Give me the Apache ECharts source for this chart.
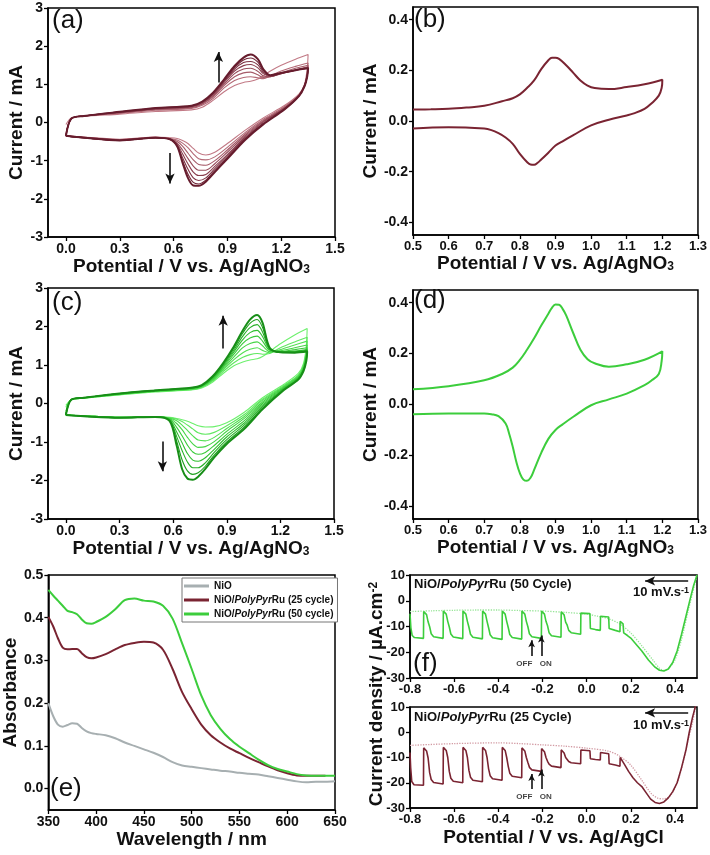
<!DOCTYPE html>
<html><head><meta charset="utf-8">
<script src="https://cdn.jsdelivr.net/npm/echarts@6/dist/echarts.min.js"></script>
<style>html,body{margin:0;padding:0;background:#fff}#c{width:710px;height:855px}</style>
</head><body><div id="c"></div>
<script>
const FF = "'Liberation Sans', Arial, Helvetica, sans-serif";

// ---------------- DATA ----------------
// (a)/(c) cyclic voltammograms: forward (anodic) and reverse (cathodic) potential grids
const cvFwdV = [0,0.03,0.1,0.3,0.5,0.7,0.76,0.82,0.88,0.94,0.99,1.03,1.07,1.1,1.14,1.2,1.28,1.35];
const cvRevV = [1.345,1.33,1.3,1.22,1.1,1.0,0.9,0.83,0.78,0.74,0.71,0.68,0.65,0.62,0.58,0.5,0.3,0.1,0];

// (a) NiO/PolyPyrRu electropolymerisation, selected cycles (first -> last)
const aFwd = [
  [-0.05,0.12,0.16,0.22,0.29,0.33,0.40,0.58,0.80,0.97,1.05,1.08,1.14,1.22,1.35,1.50,1.66,1.78],
  [-0.30,0.11,0.17,0.24,0.32,0.37,0.45,0.63,0.90,1.10,1.18,1.20,1.17,1.15,1.22,1.35,1.47,1.56],
  [-0.33,0.10,0.17,0.25,0.34,0.39,0.48,0.67,0.96,1.20,1.30,1.32,1.25,1.18,1.20,1.30,1.42,1.50],
  [-0.34,0.10,0.17,0.26,0.35,0.41,0.50,0.70,1.00,1.28,1.40,1.42,1.34,1.22,1.20,1.28,1.38,1.46],
  [-0.35,0.10,0.17,0.27,0.36,0.42,0.52,0.73,1.04,1.35,1.49,1.52,1.43,1.28,1.21,1.28,1.37,1.44],
  [-0.35,0.10,0.17,0.27,0.37,0.43,0.53,0.75,1.07,1.40,1.57,1.60,1.51,1.32,1.22,1.29,1.37,1.43],
  [-0.35,0.10,0.17,0.28,0.38,0.44,0.54,0.77,1.10,1.44,1.64,1.69,1.58,1.36,1.23,1.29,1.37,1.42],
  [-0.35,0.10,0.17,0.28,0.38,0.44,0.55,0.78,1.12,1.48,1.70,1.78,1.66,1.40,1.24,1.30,1.37,1.42]
];
const aRev = [
  [1.40,1.00,0.75,0.45,0.12,-0.20,-0.55,-0.78,-0.85,-0.80,-0.68,-0.55,-0.47,-0.42,-0.40,-0.38,-0.44,-0.38,-0.35],
  [1.28,0.98,0.73,0.42,0.08,-0.26,-0.65,-0.90,-0.98,-0.95,-0.82,-0.66,-0.54,-0.46,-0.42,-0.39,-0.45,-0.39,-0.35],
  [1.25,0.97,0.72,0.40,0.05,-0.30,-0.72,-1.00,-1.12,-1.10,-0.98,-0.80,-0.62,-0.50,-0.43,-0.39,-0.45,-0.39,-0.35],
  [1.23,0.96,0.71,0.38,0.03,-0.34,-0.78,-1.08,-1.25,-1.25,-1.14,-0.94,-0.72,-0.54,-0.43,-0.40,-0.46,-0.40,-0.35],
  [1.22,0.96,0.71,0.37,0.01,-0.38,-0.84,-1.15,-1.36,-1.39,-1.30,-1.08,-0.82,-0.57,-0.44,-0.40,-0.46,-0.40,-0.35],
  [1.21,0.95,0.70,0.36,-0.02,-0.41,-0.88,-1.21,-1.45,-1.52,-1.45,-1.22,-0.92,-0.60,-0.44,-0.40,-0.47,-0.40,-0.35],
  [1.20,0.95,0.70,0.35,-0.04,-0.43,-0.92,-1.26,-1.51,-1.61,-1.57,-1.35,-1.00,-0.62,-0.44,-0.40,-0.47,-0.40,-0.35],
  [1.20,0.95,0.70,0.35,-0.05,-0.45,-0.95,-1.30,-1.55,-1.66,-1.65,-1.45,-1.05,-0.62,-0.44,-0.40,-0.47,-0.40,-0.35]
];

// (c) selected cycles (first -> last)
const cFwd = [
  [-0.05,0.10,0.14,0.22,0.30,0.35,0.40,0.55,0.78,0.98,1.08,1.13,1.16,1.22,1.35,1.55,1.78,1.95],
  [-0.10,0.10,0.14,0.23,0.31,0.36,0.42,0.58,0.83,1.06,1.20,1.27,1.30,1.28,1.30,1.45,1.60,1.72],
  [-0.20,0.10,0.14,0.24,0.32,0.37,0.43,0.60,0.87,1.14,1.32,1.41,1.45,1.38,1.32,1.40,1.52,1.62],
  [-0.25,0.10,0.15,0.24,0.32,0.38,0.44,0.62,0.91,1.21,1.45,1.56,1.60,1.50,1.35,1.37,1.45,1.52],
  [-0.28,0.10,0.15,0.25,0.33,0.39,0.45,0.64,0.94,1.28,1.56,1.70,1.75,1.62,1.38,1.35,1.40,1.45],
  [-0.30,0.10,0.15,0.25,0.33,0.40,0.46,0.66,0.97,1.34,1.66,1.84,1.90,1.74,1.40,1.34,1.36,1.40],
  [-0.30,0.10,0.15,0.26,0.34,0.40,0.47,0.67,1.00,1.39,1.75,1.97,2.05,1.86,1.42,1.33,1.34,1.38],
  [-0.30,0.10,0.15,0.26,0.34,0.41,0.47,0.69,1.03,1.44,1.83,2.08,2.18,1.98,1.44,1.33,1.33,1.36],
  [-0.30,0.10,0.15,0.26,0.34,0.41,0.48,0.70,1.05,1.48,1.90,2.18,2.30,2.10,1.45,1.33,1.32,1.35]
];
const cRev = [
  [1.50,1.05,0.78,0.50,0.15,-0.22,-0.50,-0.60,-0.61,-0.58,-0.52,-0.46,-0.42,-0.39,-0.36,-0.34,-0.36,-0.32,-0.30],
  [1.38,1.00,0.74,0.47,0.11,-0.28,-0.58,-0.75,-0.80,-0.76,-0.66,-0.56,-0.47,-0.41,-0.37,-0.34,-0.36,-0.32,-0.30],
  [1.32,0.97,0.72,0.45,0.08,-0.33,-0.65,-0.88,-0.97,-0.95,-0.84,-0.70,-0.56,-0.45,-0.38,-0.34,-0.36,-0.32,-0.30],
  [1.27,0.95,0.70,0.43,0.04,-0.38,-0.72,-0.99,-1.12,-1.14,-1.05,-0.88,-0.68,-0.52,-0.39,-0.34,-0.36,-0.32,-0.30],
  [1.22,0.92,0.68,0.41,0.00,-0.44,-0.80,-1.09,-1.27,-1.32,-1.26,-1.08,-0.84,-0.62,-0.40,-0.34,-0.36,-0.32,-0.30],
  [1.18,0.90,0.66,0.39,-0.04,-0.50,-0.87,-1.19,-1.41,-1.50,-1.47,-1.30,-1.02,-0.74,-0.42,-0.34,-0.37,-0.33,-0.30],
  [1.15,0.88,0.64,0.37,-0.08,-0.55,-0.94,-1.27,-1.54,-1.67,-1.67,-1.52,-1.22,-0.86,-0.43,-0.35,-0.37,-0.33,-0.30],
  [1.12,0.86,0.63,0.36,-0.12,-0.60,-1.00,-1.34,-1.63,-1.80,-1.84,-1.75,-1.46,-0.98,-0.44,-0.35,-0.37,-0.33,-0.30],
  [1.10,0.85,0.62,0.35,-0.15,-0.65,-1.05,-1.40,-1.70,-1.90,-1.98,-1.95,-1.70,-1.10,-0.45,-0.35,-0.37,-0.33,-0.30]
];

// (b) single CV (maroon)
const bV = [0.5,0.55,0.6,0.65,0.7,0.75,0.78,0.8,0.82,0.84,0.86,0.88,0.89,0.9,0.91,0.93,0.95,0.97,0.99,1.01,1.05,1.1,1.15,1.2,
            1.198,1.19,1.17,1.15,1.12,1.1,1.05,1.0,0.95,0.92,0.9,0.88,0.86,0.85,0.84,0.83,0.82,0.8,0.78,0.76,0.74,0.72,0.7,0.6,0.5];
const bI = [0.045,0.046,0.048,0.053,0.06,0.078,0.09,0.105,0.13,0.16,0.205,0.24,0.25,0.25,0.245,0.22,0.19,0.16,0.14,0.13,0.126,0.134,0.145,0.163,
            0.13,0.10,0.07,0.048,0.03,0.022,0.005,-0.017,-0.056,-0.08,-0.097,-0.125,-0.152,-0.165,-0.173,-0.172,-0.162,-0.13,-0.09,-0.065,-0.048,-0.036,-0.03,-0.025,-0.03];

// (d) single CV (green)
const dV = [0.5,0.6,0.7,0.75,0.78,0.8,0.82,0.84,0.86,0.88,0.89,0.9,0.91,0.92,0.93,0.95,0.97,0.99,1.01,1.05,1.1,1.15,1.2,
            1.198,1.19,1.17,1.15,1.1,1.05,1.0,0.95,0.92,0.9,0.88,0.86,0.84,0.83,0.82,0.81,0.8,0.79,0.78,0.77,0.76,0.74,0.72,0.7,0.6,0.5];
const dI = [0.06,0.072,0.095,0.12,0.145,0.175,0.215,0.26,0.31,0.357,0.38,0.393,0.392,0.376,0.35,0.28,0.215,0.178,0.162,0.148,0.158,0.176,0.209,
            0.17,0.12,0.095,0.076,0.043,0.02,-0.003,-0.048,-0.078,-0.10,-0.135,-0.19,-0.257,-0.288,-0.30,-0.295,-0.27,-0.225,-0.166,-0.115,-0.075,-0.046,-0.038,-0.035,-0.035,-0.038];

// (e) UV-vis absorbance
const eWave = [350,355,360,365,370,375,380,385,390,395,400,410,420,430,440,450,460,470,480,490,500,510,520,530,540,550,560,570,580,590,600,610,620,630,640,650];
const eNiO  = [0.200,0.170,0.150,0.145,0.149,0.153,0.152,0.142,0.134,0.130,0.128,0.125,0.118,0.108,0.100,0.092,0.084,0.074,0.062,0.054,0.051,0.048,0.045,0.042,0.040,0.037,0.035,0.033,0.029,0.025,0.021,0.017,0.015,0.016,0.016,0.017];
const e25   = [0.402,0.380,0.352,0.330,0.326,0.327,0.327,0.317,0.308,0.305,0.307,0.315,0.326,0.336,0.341,0.344,0.342,0.325,0.280,0.226,0.186,0.150,0.125,0.108,0.094,0.083,0.072,0.062,0.052,0.043,0.036,0.031,0.030,0.030,0.030,null];
const e50   = [0.465,0.452,0.440,0.428,0.416,0.413,0.408,0.396,0.387,0.386,0.390,0.402,0.420,0.441,0.445,0.440,0.438,0.428,0.398,0.340,0.280,0.218,0.172,0.140,0.116,0.098,0.083,0.068,0.055,0.046,0.040,0.034,0.031,0.030,0.030,0.030];
const eNames = ['NiO','NiO/PolyPyrRu (25 cycle)','NiO/PolyPyrRu (50 cycle)'];

// (f) chopped-light linear sweeps [potential V, current density µA/cm2]
const f50Light = [[-0.800,-5.0],[-0.796,-10.5],[-0.790,-13.5],[-0.780,-14.3],[-0.739,-14.6],
 [-0.738,-4.2],[-0.732,-4.4],[-0.725,-5.4],[-0.718,-8.2],[-0.711,-10.1],[-0.704,-12.8],[-0.693,-14.0],[-0.650,-14.6],
 [-0.649,-4.0],[-0.643,-4.2],[-0.636,-5.2],[-0.629,-8.0],[-0.622,-10.2],[-0.615,-12.9],[-0.604,-14.1],[-0.561,-14.7],
 [-0.560,-4.0],[-0.554,-4.2],[-0.547,-5.2],[-0.540,-8.0],[-0.533,-10.3],[-0.526,-13.0],[-0.515,-14.2],[-0.472,-14.8],
 [-0.471,-4.0],[-0.465,-4.2],[-0.458,-5.2],[-0.451,-8.0],[-0.444,-10.5],[-0.437,-13.2],[-0.426,-14.4],[-0.383,-15.0],
 [-0.382,-4.0],[-0.376,-4.2],[-0.369,-5.2],[-0.362,-8.0],[-0.355,-10.4],[-0.348,-13.1],[-0.337,-14.3],[-0.294,-14.9],
 [-0.293,-4.0],[-0.287,-4.2],[-0.280,-5.2],[-0.273,-8.0],[-0.266,-10.1],[-0.259,-12.8],[-0.248,-14.0],[-0.205,-14.6],
 [-0.204,-4.0],[-0.198,-4.2],[-0.191,-5.2],[-0.184,-8.0],[-0.177,-9.7],[-0.170,-12.4],[-0.159,-13.6],[-0.116,-14.2],
 [-0.115,-4.3],[-0.109,-4.5],[-0.102,-5.5],[-0.095,-8.3],[-0.088,-9.5],[-0.081,-11.5],[-0.070,-12.4],[-0.027,-13.0],
 [-0.026,-4.8],[0.015,-5.0],[0.017,-10.8],[0.040,-11.2],[0.062,-11.5],
 [0.063,-6.0],[0.100,-6.3],[0.102,-10.8],[0.130,-11.5],[0.151,-12.0],
 [0.152,-8.0],[0.165,-9.0],[0.168,-12.5],[0.185,-13.5],[0.200,-14.5],[0.220,-16.5],[0.250,-19.5],[0.280,-23.0],
 [0.310,-25.8],[0.330,-27.0],[0.350,-27.3],[0.370,-26.5],[0.390,-24.0],[0.410,-19.5],[0.430,-13.0],[0.450,-6.0],
 [0.470,1.0],[0.485,6.0],[0.500,10.0]];
const f50Dark = [[-0.8,-4.2],[-0.7,-3.9],[-0.6,-3.7],[-0.5,-3.6],[-0.4,-3.6],[-0.3,-3.8],[-0.2,-4.0],[-0.1,-4.5],[0.0,-5.2],
 [0.05,-6.0],[0.1,-7.0],[0.15,-9.0],[0.2,-12.5],[0.25,-17.5],[0.3,-23.0],[0.33,-26.2],[0.35,-27.0],[0.37,-26.4],
 [0.4,-23.0],[0.43,-15.0],[0.46,-4.0],[0.48,3.0],[0.5,10.0]];
const f25Light = [[-0.800,-8.0],[-0.797,-14.0],[-0.792,-19.5],[-0.782,-20.8],[-0.739,-21.0],
 [-0.738,-6.2],[-0.732,-6.4],[-0.725,-7.4],[-0.718,-10.2],[-0.711,-16.0],[-0.704,-18.7],[-0.693,-19.9],[-0.650,-20.5],
 [-0.649,-6.0],[-0.643,-6.2],[-0.636,-7.2],[-0.629,-10.0],[-0.622,-15.5],[-0.615,-18.2],[-0.604,-19.4],[-0.561,-20.0],
 [-0.560,-6.0],[-0.554,-6.2],[-0.547,-7.2],[-0.540,-10.0],[-0.533,-15.1],[-0.526,-17.8],[-0.515,-19.0],[-0.472,-19.6],
 [-0.471,-6.0],[-0.465,-6.2],[-0.458,-7.2],[-0.451,-10.0],[-0.444,-14.5],[-0.437,-17.2],[-0.426,-18.4],[-0.383,-19.0],
 [-0.382,-6.0],[-0.376,-6.2],[-0.369,-7.2],[-0.362,-10.0],[-0.355,-13.5],[-0.348,-16.2],[-0.337,-17.4],[-0.294,-18.0],
 [-0.293,-6.2],[-0.287,-6.4],[-0.280,-7.4],[-0.273,-10.0],[-0.266,-12.0],[-0.259,-13.9],[-0.248,-14.9],[-0.205,-15.5],
 [-0.204,-6.5],[-0.198,-6.7],[-0.191,-7.7],[-0.184,-10.0],[-0.177,-11.5],[-0.170,-12.6],[-0.159,-13.4],[-0.116,-14.0],
 [-0.115,-7.0],[-0.109,-7.2],[-0.102,-8.2],[-0.095,-10.0],[-0.088,-10.8],[-0.081,-11.6],[-0.070,-12.1],[-0.027,-12.5],
 [-0.026,-7.0],[0.015,-7.3],[0.017,-10.5],[0.040,-10.8],[0.062,-11.0],
 [0.063,-8.0],[0.100,-8.5],[0.102,-12.5],[0.130,-13.0],[0.151,-13.5],
 [0.152,-10.0],[0.170,-12.5],[0.190,-15.5],[0.210,-18.0],[0.230,-20.0],[0.250,-21.5],[0.270,-24.0],[0.290,-26.5],
 [0.310,-27.8],[0.330,-28.2],[0.350,-27.6],[0.370,-26.0],[0.390,-23.5],[0.410,-20.0],[0.430,-14.0],[0.450,-7.0],
 [0.465,0.0],[0.480,6.0],[0.495,11.0]];
const f25Dark = [[-0.8,-5.2],[-0.6,-4.5],[-0.4,-4.2],[-0.3,-4.5],[-0.2,-5.0],[-0.1,-5.5],[0.0,-6.3],[0.1,-7.5],
 [0.15,-9.5],[0.2,-13.0],[0.25,-19.0],[0.29,-24.0],[0.32,-26.0],[0.35,-26.4],[0.38,-25.0],[0.41,-20.0],
 [0.44,-11.0],[0.46,-3.0],[0.48,4.0],[0.495,11.0]];

// tick values
const ticksCVx = [0,0.3,0.6,0.9,1.2,1.5];
const ticksCVy = [-3,-2,-1,0,1,2,3];
const ticksBDx = [0.5,0.6,0.7,0.8,0.9,1.0,1.1,1.2,1.3];
const ticksBDy = [-0.4,-0.2,0,0.2,0.4];
const ticksEx = [350,400,450,500,550,600,650];
const ticksEy = [0,0.1,0.2,0.3,0.4,0.5];
const ticksFx = [-0.8,-0.6,-0.4,-0.2,0,0.2,0.4];
const ticksFy = [-30,-20,-10,0,10];

// ---------------- STYLE ----------------
const aColors = ['#c27a86','#b46a77','#a65b69','#984c5b','#8a3e4e','#7d3142','#712637','#661c2d'];
const cColors = ['#6df06d','#5fe85f','#52df52','#45d545','#39ca39','#2fbe2f','#26b026','#1ea01e','#178e17'];
const MAROON = '#7a2432', GREEN = '#3ccd3c', GREY = '#a7afb1';

const nameStyle = {fontFamily:FF, fontSize:19, fontWeight:'bold', color:'#111',
  rich:{s:{fontFamily:FF,fontSize:12,fontWeight:'bold',color:'#111',lineHeight:9,verticalAlign:'bottom'},
        p:{fontFamily:FF,fontSize:11,fontWeight:'bold',color:'#111',lineHeight:9,verticalAlign:'top'}}};

function xAx(gi, min, max, ticks, dec, fs, name, gap) {
  return {type:'value', gridIndex:gi, min, max,
    axisLine:{show:true, onZero:false, lineStyle:{color:'#000', width:1.5}},
    axisTick:{show:true, inside:false, length:4, customValues:ticks, lineStyle:{color:'#000', width:1.3}},
    axisLabel:{customValues:ticks, formatter:v=>v.toFixed(dec), fontFamily:FF, fontSize:fs, fontWeight:'bold', color:'#111', margin:5},
    splitLine:{show:false}, name:name||'', nameLocation:'middle', nameGap:gap||20, nameTextStyle:nameStyle};
}
function yAx(gi, min, max, ticks, dec, fs, name, gap) {
  return {type:'value', gridIndex:gi, min, max,
    axisLine:{show:true, onZero:false, lineStyle:{color:'#000', width:1.5}},
    axisTick:{show:true, inside:false, length:4, customValues:ticks, lineStyle:{color:'#000', width:1.3}},
    axisLabel:{customValues:ticks, formatter:v=>v.toFixed(dec), fontFamily:FF, fontSize:fs, fontWeight:'bold', color:'#111', margin:5},
    splitLine:{show:false}, name:name||'', nameLocation:'middle', nameGap:gap||20, nameTextStyle:nameStyle};
}
const gridBase = {show:true, borderColor:'#000', borderWidth:1.5, backgroundColor:'transparent'};
const grids = [
  Object.assign({left:48, top:8, width:287, height:229}, gridBase),
  Object.assign({left:413, top:7, width:285, height:228}, gridBase),
  Object.assign({left:48, top:288, width:286, height:231}, gridBase),
  Object.assign({left:413, top:290, width:285, height:229}, gridBase),
  Object.assign({left:48, top:575, width:287, height:235}, gridBase),
  Object.assign({left:410, top:575, width:287, height:103}, gridBase),
  Object.assign({left:410, top:707, width:287, height:101}, gridBase)
];
const potNO3 = 'Potential / V vs. Ag/AgNO{s|3}';
const xAxes = [
  xAx(0,-0.1,1.5,ticksCVx,1,14,potNO3,19),
  xAx(1,0.5,1.3,ticksBDx,1,13,potNO3,19),
  xAx(2,-0.1,1.5,ticksCVx,1,14,potNO3,19),
  xAx(3,0.5,1.3,ticksBDx,1,13,potNO3,19),
  xAx(4,350,650,ticksEx,0,14,'Wavelength / nm',20),
  xAx(5,-0.8,0.5,ticksFx,1,13,'',20),
  xAx(6,-0.8,0.5,ticksFx,1,13,'Potential / V vs. Ag/AgCl',20)
];
const yAxes = [
  yAx(0,-3,3,ticksCVy,0,14,'Current / mA',22),
  yAx(1,-0.45,0.45,ticksBDy,1,14,'Current / mA',33),
  yAx(2,-3,3,ticksCVy,0,14,'Current / mA',22),
  yAx(3,-0.45,0.45,ticksBDy,1,14,'Current / mA',33),
  yAx(4,-0.05,0.5,ticksEy,1,14,'Absorbance',28),
  yAx(5,-30,10,ticksFy,0,13,'',20),
  yAx(6,-30,10,ticksFy,0,13,'',20)
];

function loop(fV, rV, f, r) {
  return fV.map((v,i)=>[v,f[i]]).concat(rV.map((v,i)=>[v,r[i]]));
}
const arrowLine = (segs, sz) => ({silent:true, symbol:['none','arrow'], symbolSize:sz||[7,10],
  label:{show:false}, lineStyle:{type:'solid', color:'#111', width:1.6}, data:segs, animation:false});

const series = [];
aFwd.forEach((f,i)=>{
  const s = {type:'line', xAxisIndex:0, yAxisIndex:0, data:loop(cvFwdV,cvRevV,f,aRev[i]), smooth:0.3,
    showSymbol:false, symbol:'none', lineStyle:{width:i===aFwd.length-1?2:1.1, color:aColors[i]}, z:2};
  if (i===aFwd.length-1) s.markLine = arrowLine([[{coord:[0.85,1.05]},{coord:[0.85,1.85]}],[{coord:[0.58,-0.8]},{coord:[0.58,-1.6]}]]);
  series.push(s);
});
cFwd.forEach((f,i)=>{
  const s = {type:'line', xAxisIndex:2, yAxisIndex:2, data:loop(cvFwdV,cvRevV,f,cRev[i]), smooth:0.3,
    showSymbol:false, symbol:'none', lineStyle:{width:i===cFwd.length-1?2:1.1, color:cColors[i]}, z:2};
  if (i===cFwd.length-1) s.markLine = arrowLine([[{coord:[0.88,1.43]},{coord:[0.88,2.28]}],[{coord:[0.54,-0.99]},{coord:[0.54,-1.76]}]]);
  series.push(s);
});
series.push({type:'line', xAxisIndex:1, yAxisIndex:1, data:bV.map((v,i)=>[v,bI[i]]), smooth:0.4, symbol:'none',
  lineStyle:{width:2, color:MAROON}});
series.push({type:'line', xAxisIndex:3, yAxisIndex:3, data:dV.map((v,i)=>[v,dI[i]]), smooth:0.4, symbol:'none',
  lineStyle:{width:2, color:GREEN}});
[[eNiO,GREY],[e25,MAROON],[e50,GREEN]].forEach(([arr,col],k)=>{
  series.push({type:'line', name:eNames[k], xAxisIndex:4, yAxisIndex:4, data:eWave.map((w,i)=>[w,arr[i]]),
    smooth:0.3, symbol:'none', itemStyle:{color:col}, lineStyle:{width:2, color:col}});
});
const smallLbl = {fontFamily:FF, fontSize:8, fontWeight:'bold', color:'#111'};
function fPanel(gi, light, dark, lightCol, darkCol, offOn) {
  series.push({type:'line', xAxisIndex:gi, yAxisIndex:gi, data:dark, smooth:0.3, symbol:'none',
    lineStyle:{width:1.3, color:darkCol, type:'dotted'}, z:1,
    markLine:arrowLine([[{coord:[0.46,7.7]},{coord:[0.265,7.7]}]])});
  series.push({type:'line', xAxisIndex:gi, yAxisIndex:gi, data:light, smooth:false, symbol:'none',
    lineStyle:{width:1.6, color:lightCol}, z:2,
    markLine:arrowLine([[{coord:[-0.249,offOn[0]]},{coord:[-0.249,offOn[1]]}],
            [{coord:[-0.205,offOn[0]]},{coord:[-0.205,offOn[2]]}]],[5,7])});
  series.push({type:'scatter', xAxisIndex:gi, yAxisIndex:gi, symbolSize:1, silent:true,
    itemStyle:{color:'rgba(0,0,0,0)'},
    label:Object.assign({show:true, position:'inside'}, smallLbl),
    data:[{value:[-0.246,offOn[3]], label:{formatter:'OFF', align:'right'}},
          {value:[-0.212,offOn[3]], label:{formatter:'ON', align:'left'}}]});
}
fPanel(5, f50Light, f50Dark, GREEN, '#98e598', [-21.5,-15.3,-13.5,-24.6]);
fPanel(6, f25Light, f25Dark, MAROON, '#d29aa3', [-22.5,-16.5,-14.8,-25.6]);

const letter = (t,l,tp)=>({type:'text', left:l, top:tp, silent:true, style:{text:t, font:'26px '+FF, fill:'#111'}});
const titleRich = {i:{fontFamily:FF, fontSize:13, fontWeight:'bold', fontStyle:'italic', fill:'#111'},
  p:{fontFamily:FF, fontSize:9, fontWeight:'bold', fill:'#111', verticalAlign:'top', lineHeight:9}};
const graphic = [
  letter('(a)',52,8), letter('(b)',414,7), letter('(c)',52,290), letter('(d)',414,288),
  letter('(e)',50,776), letter('(f)',413,651),
  {type:'text', left:414, top:578, silent:true, style:{text:'NiO/{i|PolyPyr}Ru (50 Cycle)', font:'bold 13px '+FF, fill:'#111', rich:titleRich}},
  {type:'text', left:414, top:711, silent:true, style:{text:'NiO/{i|PolyPyr}Ru (25 Cycle)', font:'bold 13px '+FF, fill:'#111', rich:titleRich}},
  {type:'text', right:21, top:586, silent:true, style:{text:'10 mV.s{p|-1}', font:'bold 13px '+FF, fill:'#111', rich:titleRich}},
  {type:'text', right:21, top:719, silent:true, style:{text:'10 mV.s{p|-1}', font:'bold 13px '+FF, fill:'#111', rich:titleRich}},
  {type:'text', x:377, y:694, rotation:Math.PI/2, silent:true,
   style:{text:'Current density / µA.cm{p|-2}', font:'bold 19px '+FF, fill:'#111', align:'center', verticalAlign:'middle',
     rich:{p:{fontFamily:FF, fontSize:12, fontWeight:'bold', fill:'#111', verticalAlign:'top', lineHeight:9}}}}
];

const chart = echarts.init(document.getElementById('c'), null, {renderer:'canvas'});
chart.setOption({
  animation:false,
  backgroundColor:'#fff',
  textStyle:{fontFamily:FF},
  grid:grids, xAxis:xAxes, yAxis:yAxes, series, graphic,
  legend:{data:eNames, left:182, top:578, orient:'vertical', icon:'rect', itemWidth:25, itemHeight:3, itemGap:4,
    borderColor:'#777', borderWidth:1, padding:[3,4,3,2], backgroundColor:'#fff', selectedMode:false,
    formatter:n=>n.replace('PolyPyr','{i|PolyPyr}'),
    textStyle:{fontFamily:FF, fontSize:10, fontWeight:'bold', color:'#111',
      rich:{i:{fontFamily:FF, fontSize:10, fontWeight:'bold', fontStyle:'italic', color:'#111'}}}}
});
</script></body></html>
